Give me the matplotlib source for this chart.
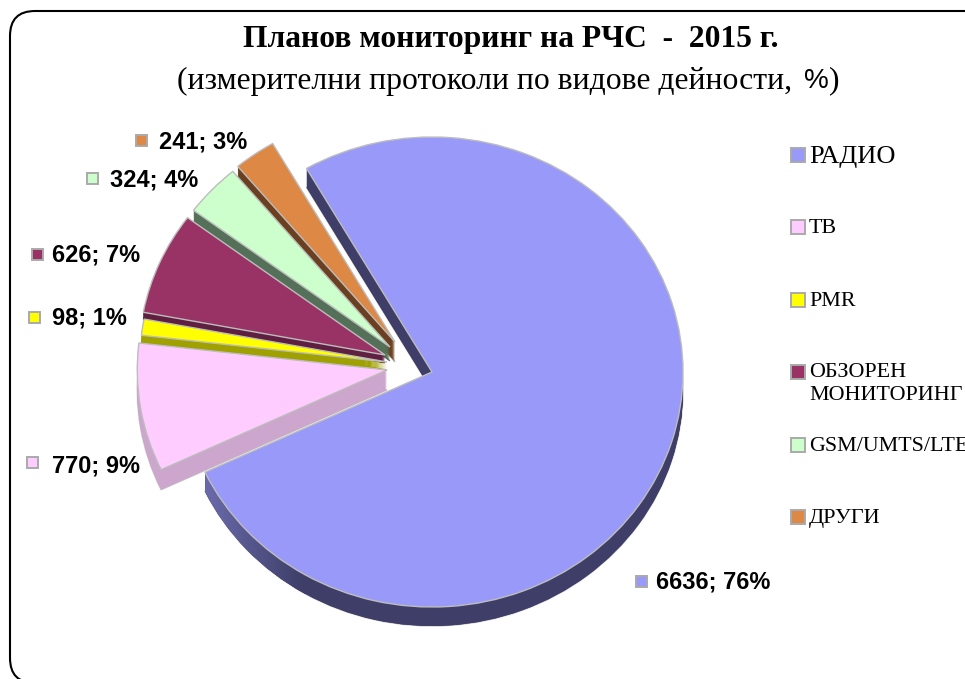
import matplotlib
matplotlib.use("Agg")
import matplotlib.pyplot as plt
import numpy as np
from matplotlib.colors import LinearSegmentedColormap
from matplotlib.patches import FancyBboxPatch, Rectangle

categories = ["РАДИО", "ТВ", "PMR", "ОБЗОРЕН\nМОНИТОРИНГ", "GSM/UMTS/LTE", "ДРУГИ"]
values = [6636, 770, 98, 626, 324, 241]
title_line = "Планов мониторинг на РЧС  -  2015 г."
subtitle_line = "(измерителни протоколи по видове дейности,"

# styles
top_colors = ["#9999FA", "#FFCCFF", "#FFFF00", "#993366", "#CCFFCC", "#DD8844"]
wall_colors = ["#3E3E68", "#CCA6CC", "#A0A000", "#5E1F40", "#557058", "#6B4020"]
apex_px = [(432, 372), (387, 370), (387, 362), (385, 355), (390, 347), (395, 342)]
radii = [1.0, 0.995, 0.985, 0.98, 0.975, 0.975]
depths = [19, 20, 8, 8, 14, 20]
z_order = [1, 6, 5, 4, 3, 2]
label_px = [(656, 582), (52, 466), (52, 318), (52, 255), (110, 180), (159, 142)]
marker_px = [(641, 581), (32, 462), (34, 317), (37, 254), (92, 178), (141, 140)]
legend_y = [155, 227, 300, 372, 445, 517]
legend_size = [19, 15.8, 15.8, 15.8, 15.8, 16]
CX, CY, RX, RY = 432, 372, 251, 235
DEPTH = 20
W, H = 965, 679

fig = plt.figure(figsize=(W / 100, H / 100), dpi=100, facecolor="white")
bg = fig.add_axes([0, 0, 1, 1])
bg.set_xlim(0, W)
bg.set_ylim(H, 0)
bg.axis("off")

bg.add_patch(FancyBboxPatch((10, 11), 1100, 672, boxstyle="round,pad=0,rounding_size=25",
                            fc="white", ec="black", lw=1.5, zorder=0))

ax = fig.add_axes([0, 0, 1, 1])
ax.patch.set_alpha(0)


def layer(colors, dy_px, base_z, edge=None):
    wedges, _ = ax.pie(values, colors=colors, startangle=120, counterclock=False,
                       wedgeprops=dict(linewidth=1.0 if edge else 0,
                                       edgecolor=edge if edge else "none"))
    for i, w in enumerate(wedges):
        x, y = apex_px[i]
        w.set_center(((x - CX) / RX, (CY - y - min(dy_px, depths[i])) / RY))
        w.set_radius(radii[i])
        w.set_zorder(z_order[i] * 100 + base_z)
    return wedges


# side walls of the slices, with the lighter left end of the big slice's wall
shade = LinearSegmentedColormap.from_list("shade", ["#6A6AAC", "#3E3E68"])
ramp = np.linspace(0, 1, 64).reshape(1, -1)
layer(wall_colors, DEPTH, 0, edge="#C8C8C8")
for d in range(DEPTH, 0, -1):
    wall = layer(wall_colors, d, DEPTH - d + 1)
    im = ax.imshow(ramp, cmap=shade, aspect="auto", interpolation="bilinear",
                   extent=((205 - CX) / RX, (305 - CX) / RX, -1.2, -0.2),
                   zorder=100 + DEPTH + 2)
    im.set_clip_path(wall[0])
layer(top_colors, 0, DEPTH + 5, edge="#BDBDBD")

ax.set_aspect("auto")
ax.set_xlim(-CX / RX, (W - CX) / RX)
ax.set_ylim((CY - H) / RY, CY / RY)
ax.axis("off")

SERIF = "Liberation Serif"
SANS = "Liberation Sans"
bg.text(510.5, 40, title_line, family=SERIF, weight="bold", fontsize=22.7, ha="center", va="center")
bg.text(177, 81, subtitle_line, family=SERIF, fontsize=22.8, ha="left", va="center")
bg.text(804, 81, "%", family=SANS, fontsize=20, ha="left", va="center")
bg.text(839, 81, ")", family=SERIF, fontsize=22.8, ha="right", va="center")

total = sum(values)
for i, v in enumerate(values):
    bg.add_patch(Rectangle((marker_px[i][0] - 5.5, marker_px[i][1] - 5.5), 11, 11,
                           fc=top_colors[i], ec="#AAAAAA", lw=1.4))
    bg.text(label_px[i][0], label_px[i][1], f"{v}; {round(100 * v / total)}%", family=SANS,
            weight="bold", fontsize=17, ha="left", va="center")

for i, c in enumerate(categories):
    bg.add_patch(Rectangle((790.5, legend_y[i] - 7), 14, 14, fc=top_colors[i], ec="#AAAAAA", lw=1.4))
    bg.text(809, legend_y[i] + 1.5 + (10.5 if "\n" in c else 0), c, family=SERIF, fontsize=legend_size[i],
            ha="left", va="center", linespacing=1.3)

fig.savefig("out.png", dpi=100)
